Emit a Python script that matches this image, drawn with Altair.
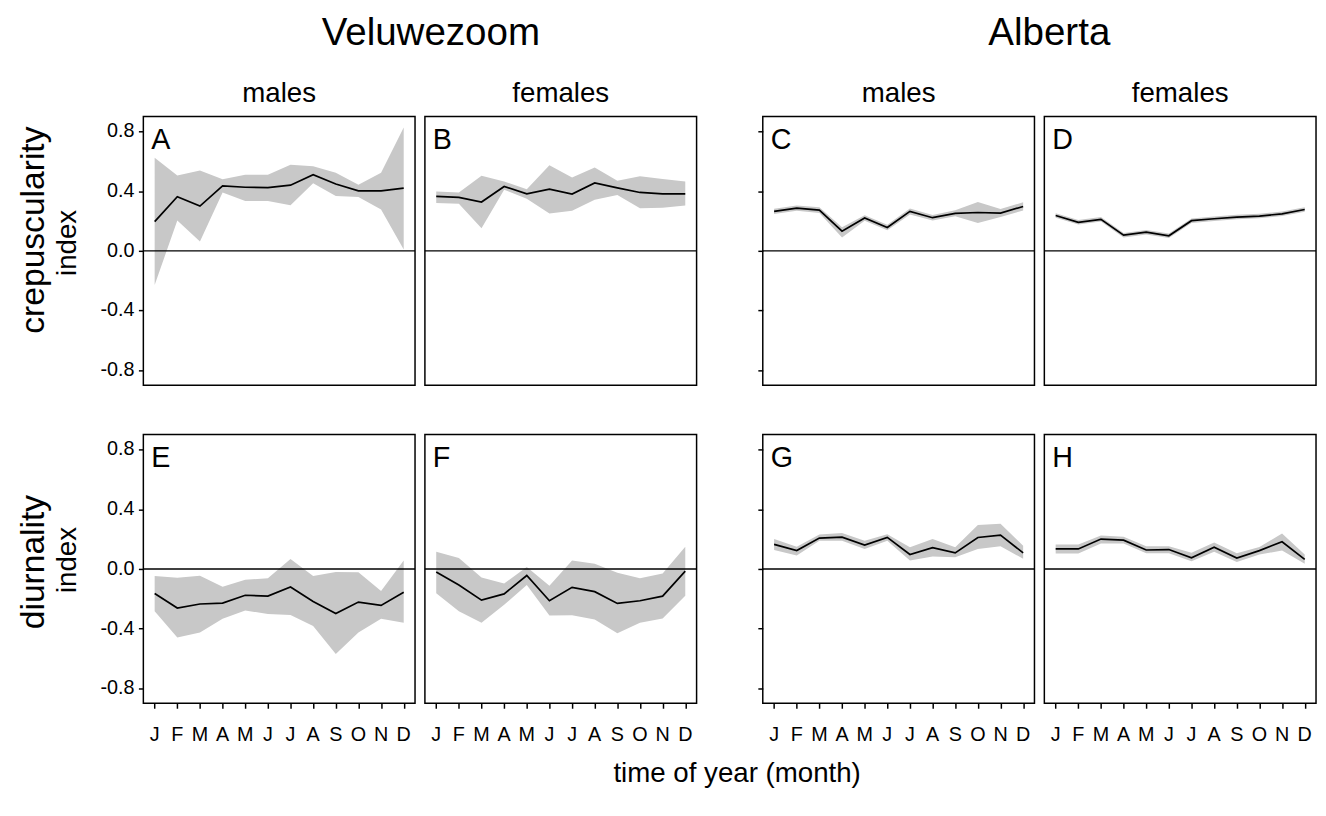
import json
import altair as alt
import pandas as pd

# ---------------- data ----------------
MONTHS = list(range(1, 13))
MONTH_LABELS = ["J", "F", "M", "A", "M", "J", "J", "A", "S", "O", "N", "D"]
Y_TICKS = [-0.8, -0.4, 0.0, 0.4, 0.8]
Y_LABELS = ["-0.8", "-0.4", "0.0", "0.4", "0.8"]

SITES = ["Veluwezoom", "Alberta"]
SEXES = ["males", "females"]
ROWS = ["crepuscularity", "diurnality"]
ROW_SUB = "index"
X_TITLE = "time of year (month)"

A_MEAN = [0.196, 0.363, 0.300, 0.435, 0.426, 0.424, 0.440, 0.510, 0.448, 0.402, 0.402, 0.420]
A_HI = [0.624, 0.505, 0.538, 0.479, 0.510, 0.510, 0.576, 0.567, 0.523, 0.442, 0.523, 0.826]
A_LO = [-0.229, 0.204, 0.062, 0.391, 0.334, 0.334, 0.305, 0.453, 0.367, 0.360, 0.277, 0.009]

B_MEAN = [0.365, 0.358, 0.327, 0.431, 0.382, 0.413, 0.380, 0.455, 0.422, 0.391, 0.382, 0.382]
B_HI = [0.398, 0.391, 0.503, 0.464, 0.413, 0.574, 0.492, 0.558, 0.470, 0.499, 0.481, 0.464]
B_LO = [0.321, 0.316, 0.152, 0.409, 0.349, 0.250, 0.268, 0.343, 0.374, 0.286, 0.288, 0.303]

C_MEAN = [0.264, 0.286, 0.273, 0.132, 0.220, 0.156, 0.264, 0.222, 0.251, 0.257, 0.253, 0.297]
C_HI = [0.282, 0.304, 0.292, 0.158, 0.238, 0.174, 0.284, 0.240, 0.272, 0.327, 0.280, 0.325]
C_LO = [0.246, 0.268, 0.254, 0.090, 0.202, 0.138, 0.244, 0.204, 0.232, 0.187, 0.226, 0.270]

D_MEAN = [0.237, 0.191, 0.211, 0.105, 0.125, 0.101, 0.202, 0.215, 0.226, 0.233, 0.248, 0.277]
D_HI = [0.252, 0.206, 0.226, 0.120, 0.140, 0.116, 0.217, 0.230, 0.241, 0.248, 0.263, 0.292]
D_LO = [0.222, 0.176, 0.196, 0.090, 0.110, 0.086, 0.187, 0.200, 0.211, 0.218, 0.233, 0.262]

E_MEAN = [-0.165, -0.262, -0.235, -0.229, -0.176, -0.182, -0.121, -0.218, -0.299, -0.222, -0.244, -0.156]
E_HI = [-0.048, -0.059, -0.046, -0.119, -0.073, -0.062, 0.066, -0.048, -0.020, -0.022, -0.147, 0.057]
E_LO = [-0.284, -0.459, -0.426, -0.334, -0.279, -0.301, -0.308, -0.382, -0.569, -0.426, -0.334, -0.360]

F_MEAN = [-0.020, -0.108, -0.209, -0.167, -0.044, -0.213, -0.123, -0.152, -0.231, -0.213, -0.182, -0.015]
F_HI = [0.116, 0.073, -0.057, -0.097, 0.013, -0.112, 0.057, 0.035, -0.026, -0.062, -0.031, 0.149]
F_LO = [-0.163, -0.284, -0.360, -0.240, -0.108, -0.312, -0.310, -0.338, -0.431, -0.360, -0.332, -0.180]

G_MEAN = [0.165, 0.123, 0.207, 0.213, 0.160, 0.211, 0.097, 0.143, 0.108, 0.211, 0.226, 0.108]
G_HI = [0.200, 0.149, 0.231, 0.240, 0.189, 0.233, 0.145, 0.200, 0.145, 0.295, 0.303, 0.156]
G_LO = [0.127, 0.090, 0.189, 0.189, 0.134, 0.189, 0.057, 0.084, 0.079, 0.134, 0.152, 0.068]

H_MEAN = [0.134, 0.134, 0.200, 0.193, 0.127, 0.130, 0.075, 0.145, 0.073, 0.123, 0.182, 0.064]
H_HI = [0.163, 0.163, 0.224, 0.215, 0.152, 0.152, 0.108, 0.178, 0.105, 0.147, 0.237, 0.097]
H_LO = [0.103, 0.103, 0.171, 0.171, 0.105, 0.105, 0.051, 0.116, 0.046, 0.097, 0.123, 0.035]

# ---------------- style ----------------
W, H = 275, 272
FONT = "Liberation Sans"
BAND = "#c8c8c8"
TICK_FS = 20

xs = alt.Scale(domain=[0.5, 12.5], nice=False, zero=False)
ys = alt.Scale(domain=[-0.9, 0.9], nice=False, zero=False)


def y_axis():
    return alt.Axis(values=Y_TICKS, labels=False, tickSize=5, tickWidth=1.5,
                    tickColor="black", domain=False, grid=False, title=None)


def x_axis():
    return alt.Axis(values=MONTHS, labels=False, tickSize=5, tickWidth=1.5,
                    tickColor="black", domain=False, grid=False, title=None)


def txt(s, x, y, size, angle=0, align="center"):
    return alt.Chart(pd.DataFrame({"t": [s]})).mark_text(
        font=FONT, fontSize=size, angle=angle, align=align,
        baseline="alphabetic", color="black"
    ).encode(text="t:N", x=alt.value(x), y=alt.value(y))


def y_labels(yaxis):
    df = pd.DataFrame({"v": Y_TICKS, "lab": Y_LABELS})
    return alt.Chart(df).mark_text(
        font=FONT, fontSize=TICK_FS, align="right", baseline="middle", color="black"
    ).encode(y=alt.Y("v:Q", scale=ys, axis=yaxis), x=alt.value(-9), text="lab:N")


def x_labels(xaxis):
    df = pd.DataFrame({"m": MONTHS, "lab": MONTH_LABELS})
    return alt.Chart(df).mark_text(
        font=FONT, fontSize=TICK_FS, align="center", baseline="alphabetic", color="black"
    ).encode(x=alt.X("m:Q", scale=xs, axis=xaxis), y=alt.value(H + 38), text="lab:N")


def panel(letter, mean, lo, hi, show_y, ylabels, show_x, extras):
    yaxis = y_axis() if show_y else None
    xaxis = x_axis() if show_x else None
    df = pd.DataFrame({"month": MONTHS, "mean": mean, "lo": lo, "hi": hi})
    base = alt.Chart(df)
    area = base.mark_area(color=BAND, opacity=1).encode(
        x=alt.X("month:Q", scale=xs, axis=xaxis),
        y=alt.Y("lo:Q", scale=ys, axis=yaxis),
        y2="hi:Q",
    )
    line = base.mark_line(color="black", strokeWidth=1.7).encode(
        x=alt.X("month:Q", scale=xs, axis=xaxis),
        y=alt.Y("mean:Q", scale=ys, axis=yaxis),
    )
    zero = alt.Chart(pd.DataFrame({"z": [0.0]})).mark_rule(
        color="black", strokeWidth=1.4
    ).encode(y=alt.Y("z:Q", scale=ys, axis=yaxis))
    lab = txt(letter, 8, 33, 29, align="left")
    layers = [area, line, zero, lab]
    if ylabels:
        layers.append(y_labels(yaxis))
    if show_x:
        layers.append(x_labels(xaxis))
    return alt.layer(*layers, *extras).properties(width=W, height=H)


def spacer():
    return alt.Chart(pd.DataFrame({"t": [""]})).mark_text(opacity=0).encode(
        text="t:N"
    ).properties(width=47, height=H, view=alt.ViewBackground(strokeOpacity=0))


pA = panel("A", A_MEAN, A_LO, A_HI, True, True, False, [
    txt(ROWS[0], -101, 115, 34, angle=270),
    txt(ROW_SUB, -68, 128, 28, angle=270),
    txt(SITES[0], 291, -72, 39),
    txt(SEXES[0], W / 2, -15, 28),
])
pB = panel("B", B_MEAN, B_LO, B_HI, False, False, False, [txt(SEXES[1], W / 2, -15, 28)])
pC = panel("C", C_MEAN, C_LO, C_HI, True, False, False, [
    txt(SITES[1], 290, -72, 39),
    txt(SEXES[0], W / 2, -15, 28),
])
pD = panel("D", D_MEAN, D_LO, D_HI, False, False, False, [txt(SEXES[1], W / 2, -15, 28)])

pE = panel("E", E_MEAN, E_LO, E_HI, True, True, True, [
    txt(ROWS[1], -101, 129, 34, angle=270),
    txt(ROW_SUB, -68, 127, 28, angle=270),
])
pF = panel("F", F_MEAN, F_LO, F_HI, False, False, True, [txt(X_TITLE, 316, 352, 28)])
pG = panel("G", G_MEAN, G_LO, G_HI, True, False, True, [])
pH = panel("H", H_MEAN, H_LO, H_HI, False, False, True, [])

chart = alt.concat(
    pA, pB, spacer(), pC, pD,
    pE, pF, spacer(), pG, pH,
    columns=5, spacing={"row": 50, "column": 10}, bounds="flush", align="each",
).properties(
    padding={"left": 8, "top": 1, "right": 0, "bottom": 0}
).configure_view(
    stroke="black", strokeWidth=1.5
)

chart.save("out.html", embed_options={"renderer": "svg", "actions": False})
